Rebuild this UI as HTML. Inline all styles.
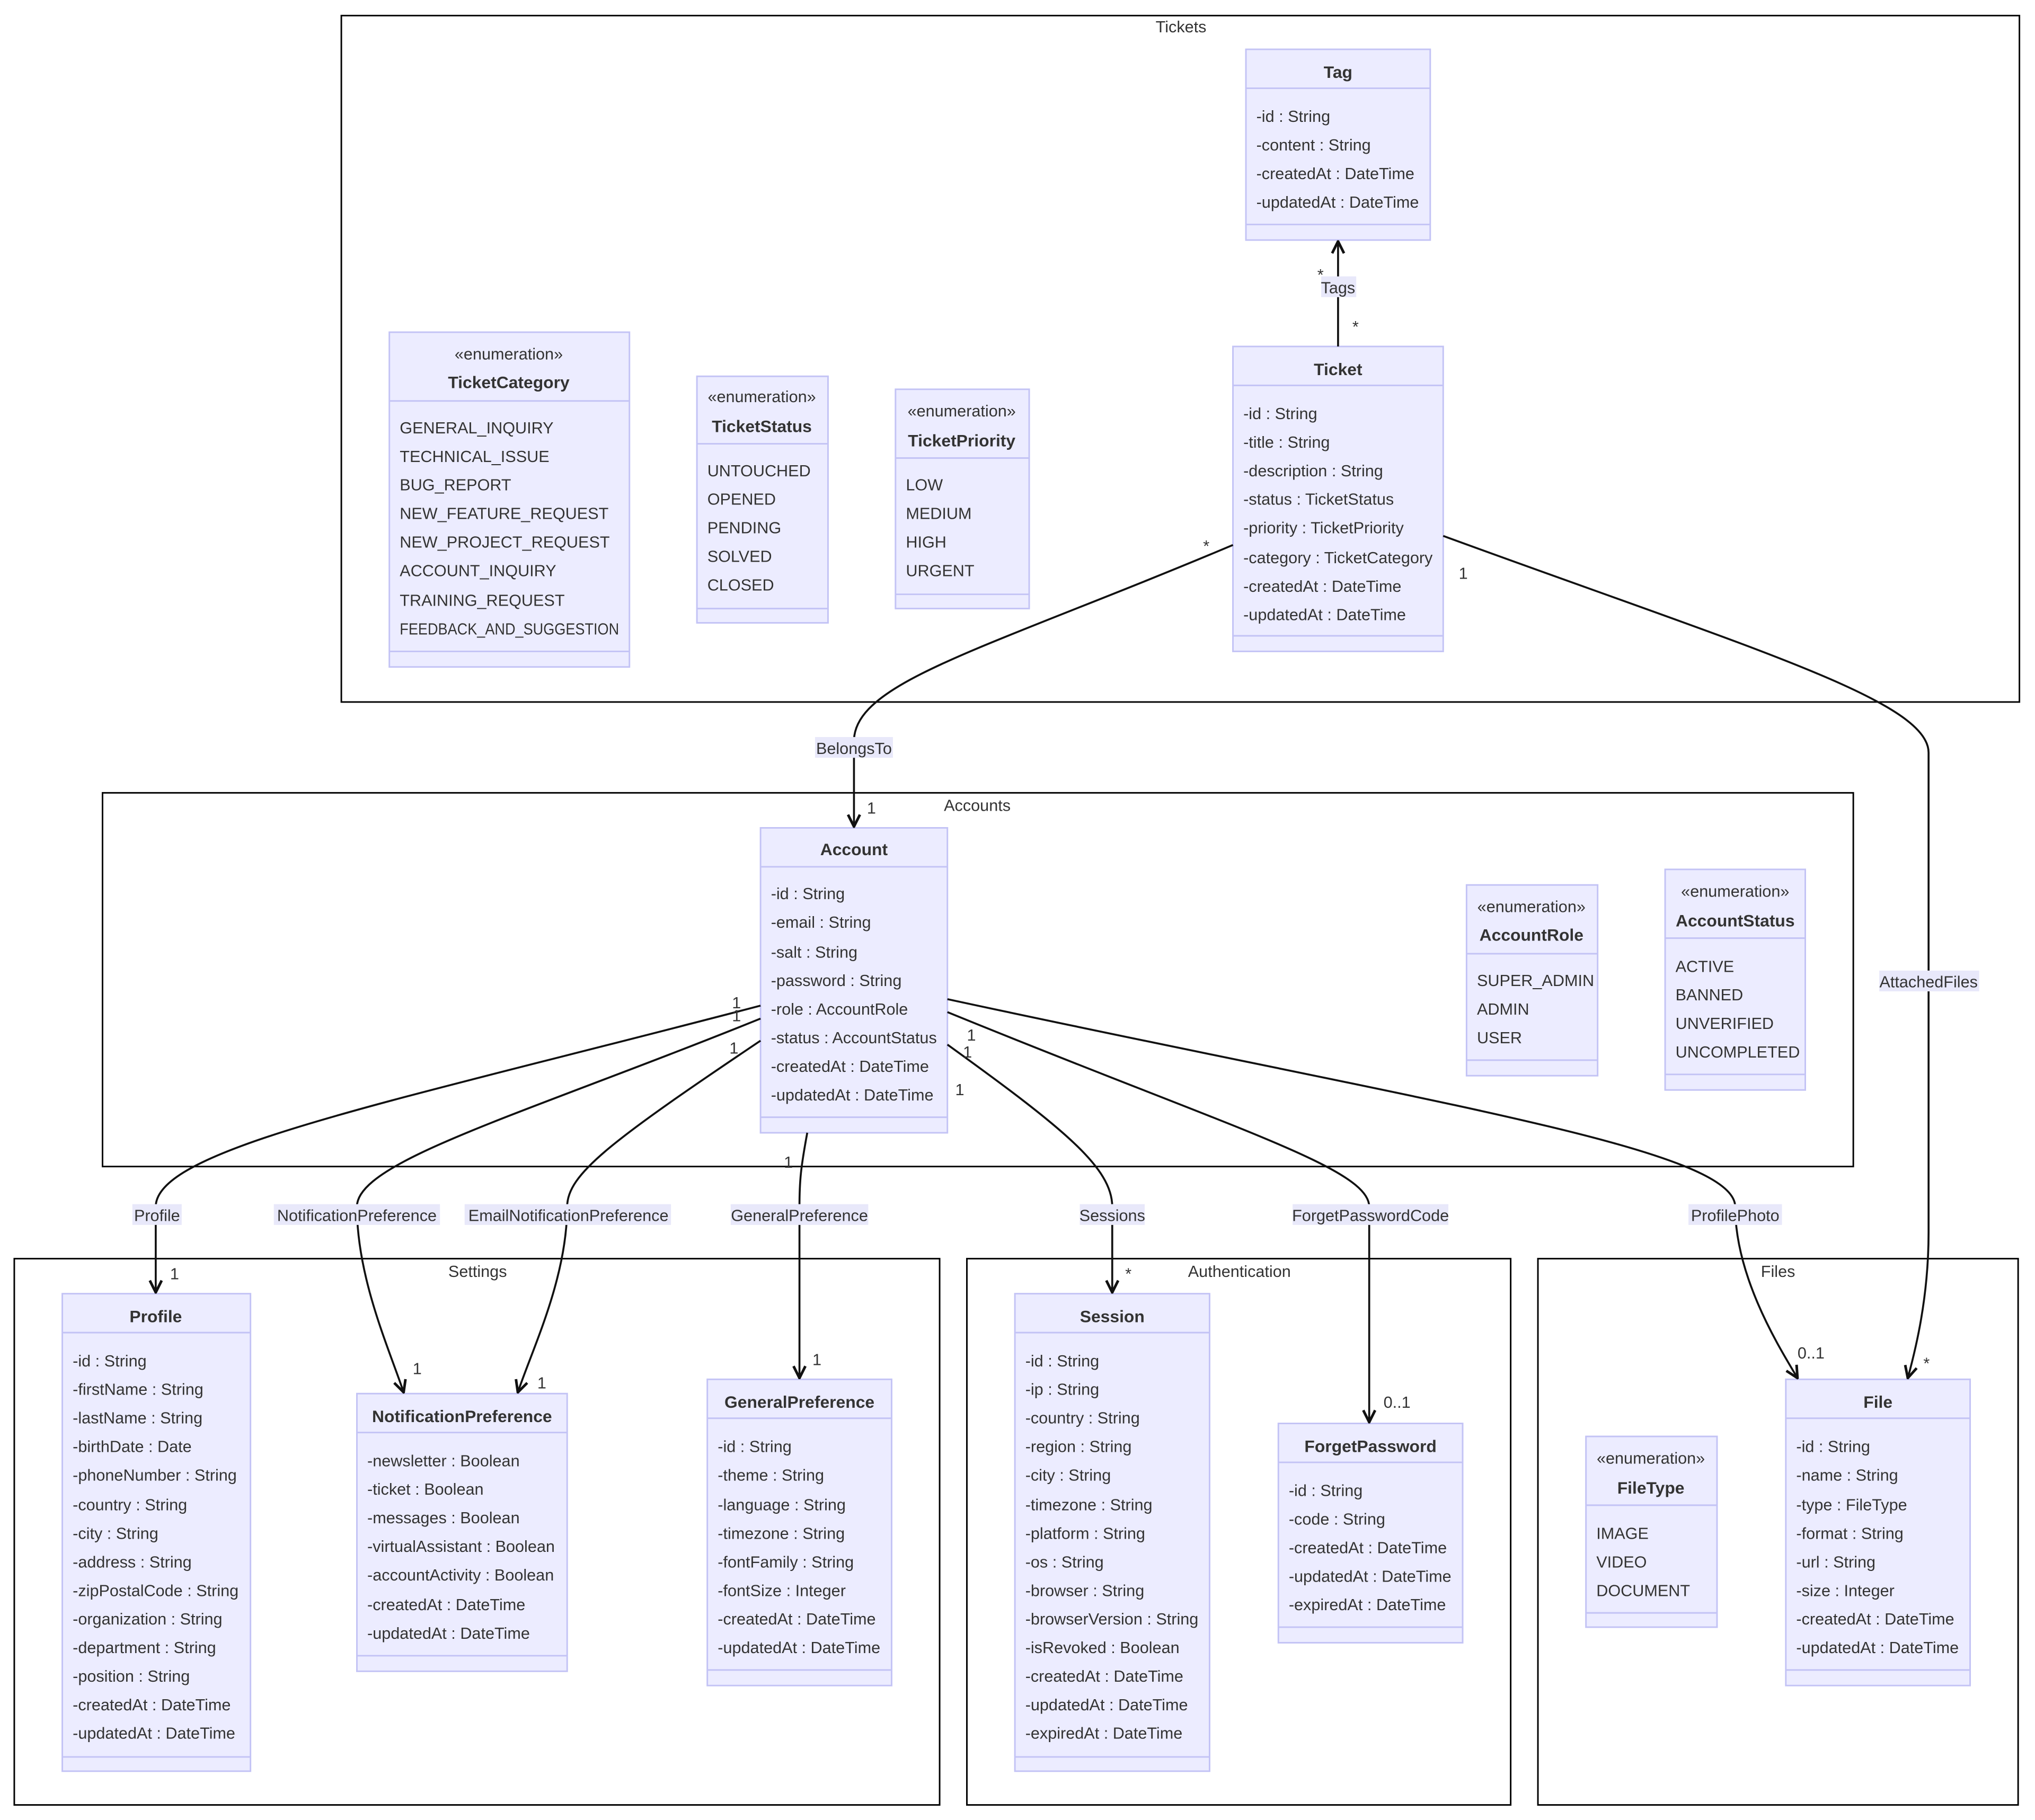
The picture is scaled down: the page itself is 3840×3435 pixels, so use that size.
<!DOCTYPE html>
<html><head><meta charset="utf-8"><style>
html,body{margin:0;padding:0;background:#fff;}
svg{display:block;}
text{font-family:"Liberation Sans","DejaVu Sans",sans-serif;font-size:12.5px;fill:#333;}
.c{text-anchor:middle;}
.b{font-weight:bold;font-size:13px;}
.box{fill:#ECECFF;stroke:#C3C3F5;stroke-width:1.2;}
.dv{stroke:#C3C3F5;stroke-width:1.2;}
.cl{fill:none;stroke:#000;stroke-width:1.2;}
.e{fill:none;stroke:#111;stroke-width:1.5;marker-end:url(#ar);}
.lb{fill:#E8E8FA;}
</style></head><body>
<svg width="3840" height="3435" viewBox="0 0 1568 1402.6" xmlns="http://www.w3.org/2000/svg">
<defs><marker id="ar" viewBox="0 0 12 12" refX="11" refY="6" markerWidth="11" markerHeight="11" orient="auto" markerUnits="userSpaceOnUse"><path d="M1,1 L11,6 L1,11" fill="none" stroke="#111" stroke-width="2.2"/></marker></defs>
<rect width="1568" height="1402.6" fill="#fff"/>

<rect class="cl" x="263" y="12" width="1293" height="529"/><text class="c" x="910" y="25">Tickets</text>
<rect class="cl" x="79" y="611" width="1349" height="288"/><text class="c" x="753" y="625">Accounts</text>
<rect class="cl" x="11" y="970" width="713" height="421"/><text class="c" x="368" y="984">Settings</text>
<rect class="cl" x="745" y="970" width="419" height="421"/><text class="c" x="955" y="984">Authentication</text>
<rect class="cl" x="1185" y="970" width="370" height="421"/><text class="c" x="1370" y="984">Files</text>

<rect class="box" x="960" y="38" width="142" height="147"/>
<line class="dv" x1="960" y1="68" x2="1102" y2="68"/><line class="dv" x1="960" y1="173" x2="1102" y2="173"/>
<text class="c b" x="1031" y="60">Tag</text>
<text x="968" y="94">-id : String</text><text x="968" y="116">-content : String</text><text x="968" y="138">-createdAt : DateTime</text><text x="968" y="160">-updatedAt : DateTime</text>

<rect class="box" x="950" y="267" width="162" height="235"/>
<line class="dv" x1="950" y1="297" x2="1112" y2="297"/><line class="dv" x1="950" y1="490" x2="1112" y2="490"/>
<text class="c b" x="1031" y="289">Ticket</text>
<text x="958" y="323">-id : String</text><text x="958" y="345">-title : String</text><text x="958" y="367">-description : String</text><text x="958" y="389">-status : TicketStatus</text><text x="958" y="411">-priority : TicketPriority</text><text x="958" y="434">-category : TicketCategory</text><text x="958" y="456">-createdAt : DateTime</text><text x="958" y="478">-updatedAt : DateTime</text>

<rect class="box" x="300" y="256" width="185" height="258"/>
<line class="dv" x1="300" y1="309" x2="485" y2="309"/><line class="dv" x1="300" y1="502" x2="485" y2="502"/>
<text class="c" x="392" y="277">«enumeration»</text><text class="c b" x="392" y="299">TicketCategory</text>
<text x="308" y="334">GENERAL_INQUIRY</text><text x="308" y="356">TECHNICAL_ISSUE</text><text x="308" y="378">BUG_REPORT</text><text x="308" y="400">NEW_FEATURE_REQUEST</text><text x="308" y="422">NEW_PROJECT_REQUEST</text><text x="308" y="444">ACCOUNT_INQUIRY</text><text x="308" y="467">TRAINING_REQUEST</text><text x="308" y="489" textLength="169" lengthAdjust="spacingAndGlyphs">FEEDBACK_AND_SUGGESTION</text>

<rect class="box" x="537" y="290" width="101" height="190"/>
<line class="dv" x1="537" y1="342" x2="638" y2="342"/><line class="dv" x1="537" y1="469" x2="638" y2="469"/>
<text class="c" x="587" y="310">«enumeration»</text><text class="c b" x="587" y="333">TicketStatus</text>
<text x="545" y="367">UNTOUCHED</text><text x="545" y="389">OPENED</text><text x="545" y="411">PENDING</text><text x="545" y="433">SOLVED</text><text x="545" y="455">CLOSED</text>

<rect class="box" x="690" y="300" width="103" height="169"/>
<line class="dv" x1="690" y1="353" x2="793" y2="353"/><line class="dv" x1="690" y1="458" x2="793" y2="458"/>
<text class="c" x="741" y="321">«enumeration»</text><text class="c b" x="741" y="344">TicketPriority</text>
<text x="698" y="378">LOW</text><text x="698" y="400">MEDIUM</text><text x="698" y="422">HIGH</text><text x="698" y="444">URGENT</text>

<rect class="box" x="586" y="638" width="144" height="235"/>
<line class="dv" x1="586" y1="668" x2="730" y2="668"/><line class="dv" x1="586" y1="861" x2="730" y2="861"/>
<text class="c b" x="658" y="659">Account</text>
<text x="594" y="693">-id : String</text><text x="594" y="715">-email : String</text><text x="594" y="738">-salt : String</text><text x="594" y="760">-password : String</text><text x="594" y="782">-role : AccountRole</text><text x="594" y="804">-status : AccountStatus</text><text x="594" y="826">-createdAt : DateTime</text><text x="594" y="848">-updatedAt : DateTime</text>

<rect class="box" x="1130" y="682" width="101" height="147"/>
<line class="dv" x1="1130" y1="735" x2="1231" y2="735"/><line class="dv" x1="1130" y1="817" x2="1231" y2="817"/>
<text class="c" x="1180" y="703">«enumeration»</text><text class="c b" x="1180" y="725">AccountRole</text>
<text x="1138" y="760">SUPER_ADMIN</text><text x="1138" y="782">ADMIN</text><text x="1138" y="804">USER</text>

<rect class="box" x="1283" y="670" width="108" height="170"/>
<line class="dv" x1="1283" y1="723" x2="1391" y2="723"/><line class="dv" x1="1283" y1="828" x2="1391" y2="828"/>
<text class="c" x="1337" y="691">«enumeration»</text><text class="c b" x="1337" y="714">AccountStatus</text>
<text x="1291" y="749">ACTIVE</text><text x="1291" y="771">BANNED</text><text x="1291" y="793">UNVERIFIED</text><text x="1291" y="815">UNCOMPLETED</text>

<rect class="box" x="48" y="997" width="145" height="368"/>
<line class="dv" x1="48" y1="1027" x2="193" y2="1027"/><line class="dv" x1="48" y1="1354" x2="193" y2="1354"/>
<text class="c b" x="120" y="1019">Profile</text>
<text x="56" y="1053">-id : String</text><text x="56" y="1075">-firstName : String</text><text x="56" y="1097">-lastName : String</text><text x="56" y="1119">-birthDate : Date</text><text x="56" y="1141">-phoneNumber : String</text><text x="56" y="1164">-country : String</text><text x="56" y="1186">-city : String</text><text x="56" y="1208">-address : String</text><text x="56" y="1230">-zipPostalCode : String</text><text x="56" y="1252">-organization : String</text><text x="56" y="1274">-department : String</text><text x="56" y="1296">-position : String</text><text x="56" y="1318">-createdAt : DateTime</text><text x="56" y="1340">-updatedAt : DateTime</text>

<rect class="box" x="275" y="1074" width="162" height="214"/>
<line class="dv" x1="275" y1="1104" x2="437" y2="1104"/><line class="dv" x1="275" y1="1276" x2="437" y2="1276"/>
<text class="c b" x="356" y="1096">NotificationPreference</text>
<text x="283" y="1130">-newsletter : Boolean</text><text x="283" y="1152">-ticket : Boolean</text><text x="283" y="1174">-messages : Boolean</text><text x="283" y="1196">-virtualAssistant : Boolean</text><text x="283" y="1218">-accountActivity : Boolean</text><text x="283" y="1241">-createdAt : DateTime</text><text x="283" y="1263">-updatedAt : DateTime</text>

<rect class="box" x="545" y="1063" width="142" height="236"/>
<line class="dv" x1="545" y1="1093" x2="687" y2="1093"/><line class="dv" x1="545" y1="1287" x2="687" y2="1287"/>
<text class="c b" x="616" y="1085">GeneralPreference</text>
<text x="553" y="1119">-id : String</text><text x="553" y="1141">-theme : String</text><text x="553" y="1164">-language : String</text><text x="553" y="1186">-timezone : String</text><text x="553" y="1208">-fontFamily : String</text><text x="553" y="1230">-fontSize : Integer</text><text x="553" y="1252">-createdAt : DateTime</text><text x="553" y="1274">-updatedAt : DateTime</text>

<rect class="box" x="782" y="997" width="150" height="368"/>
<line class="dv" x1="782" y1="1027" x2="932" y2="1027"/><line class="dv" x1="782" y1="1354" x2="932" y2="1354"/>
<text class="c b" x="857" y="1019">Session</text>
<text x="790" y="1053">-id : String</text><text x="790" y="1075">-ip : String</text><text x="790" y="1097">-country : String</text><text x="790" y="1119">-region : String</text><text x="790" y="1141">-city : String</text><text x="790" y="1164">-timezone : String</text><text x="790" y="1186">-platform : String</text><text x="790" y="1208">-os : String</text><text x="790" y="1230">-browser : String</text><text x="790" y="1252">-browserVersion : String</text><text x="790" y="1274">-isRevoked : Boolean</text><text x="790" y="1296">-createdAt : DateTime</text><text x="790" y="1318">-updatedAt : DateTime</text><text x="790" y="1340">-expiredAt : DateTime</text>

<rect class="box" x="985" y="1097" width="142" height="169"/>
<line class="dv" x1="985" y1="1127" x2="1127" y2="1127"/><line class="dv" x1="985" y1="1254" x2="1127" y2="1254"/>
<text class="c b" x="1056" y="1119">ForgetPassword</text>
<text x="993" y="1153">-id : String</text><text x="993" y="1175">-code : String</text><text x="993" y="1197">-createdAt : DateTime</text><text x="993" y="1219">-updatedAt : DateTime</text><text x="993" y="1241">-expiredAt : DateTime</text>

<rect class="box" x="1222" y="1107" width="101" height="147"/>
<line class="dv" x1="1222" y1="1160" x2="1323" y2="1160"/><line class="dv" x1="1222" y1="1243" x2="1323" y2="1243"/>
<text class="c" x="1272" y="1128">«enumeration»</text><text class="c b" x="1272" y="1151">FileType</text>
<text x="1230" y="1186">IMAGE</text><text x="1230" y="1208">VIDEO</text><text x="1230" y="1230">DOCUMENT</text>

<rect class="box" x="1376" y="1063" width="142" height="236"/>
<line class="dv" x1="1376" y1="1093" x2="1518" y2="1093"/><line class="dv" x1="1376" y1="1287" x2="1518" y2="1287"/>
<text class="c b" x="1447" y="1085">File</text>
<text x="1384" y="1119">-id : String</text><text x="1384" y="1141">-name : String</text><text x="1384" y="1164">-type : FileType</text><text x="1384" y="1186">-format : String</text><text x="1384" y="1208">-url : String</text><text x="1384" y="1230">-size : Integer</text><text x="1384" y="1252">-createdAt : DateTime</text><text x="1384" y="1274">-updatedAt : DateTime</text>

<path class="e" d="M1031,267 L1031,186"/>
<path class="e" d="M950,420 C760,500 660,525 658,570 L658,637"/>
<path class="e" d="M1112,413 C1350,500 1486,540 1486,580 L1486,950 C1486,1000 1476,1040 1470,1062"/>
<path class="e" d="M586,775 C300,850 120,885 120,930 L120,996"/>
<path class="e" d="M586,785 C400,860 275,895 275,930 C275,985 300,1040 311,1073"/>
<path class="e" d="M586,802 C470,880 437,905 437,930 C437,985 410,1040 399,1073"/>
<path class="e" d="M622,873 C617,900 616,910 616,930 L616,1062"/>
<path class="e" d="M730,805 C820,870 857,900 857,930 L857,996"/>
<path class="e" d="M730,780 C950,870 1055,900 1055,930 L1055,1096"/>
<path class="e" d="M730,770 C1100,850 1337,885 1337,930 C1337,985 1372,1040 1385,1062"/>

<rect class="lb" x="1018" y="213" width="27" height="16"/><text class="c" x="1031" y="226">Tags</text>
<rect class="lb" x="628" y="568" width="60" height="16"/><text class="c" x="658" y="581">BelongsTo</text>
<rect class="lb" x="1448" y="748" width="77" height="16"/><text class="c" x="1486" y="761">AttachedFiles</text>
<rect class="lb" x="102" y="928" width="38" height="16"/><text class="c" x="121" y="941">Profile</text>
<rect class="lb" x="211" y="928" width="128" height="16"/><text class="c" x="275" y="941">NotificationPreference</text>
<rect class="lb" x="358" y="928" width="159" height="16"/><text class="c" x="438" y="941">EmailNotificationPreference</text>
<rect class="lb" x="563" y="928" width="106" height="16"/><text class="c" x="616" y="941">GeneralPreference</text>
<rect class="lb" x="832" y="928" width="50" height="16"/><text class="c" x="857" y="941">Sessions</text>
<rect class="lb" x="996" y="928" width="120" height="16"/><text class="c" x="1056" y="941">ForgetPasswordCode</text>
<rect class="lb" x="1301" y="928" width="72" height="16"/><text class="c" x="1337" y="941">ProfilePhoto</text>

<text x="1015" y="216">*</text><text x="1042" y="256">*</text>
<text x="927" y="425">*</text><text x="668" y="627">1</text>
<text x="1124" y="446">1</text><text x="1482" y="1055">*</text>
<text x="564" y="777">1</text><text x="131" y="986">1</text>
<text x="564" y="787">1</text><text x="318" y="1059">1</text>
<text x="562" y="812">1</text><text x="414" y="1070">1</text>
<text x="604" y="900">1</text><text x="626" y="1052">1</text>
<text x="742" y="815">1</text><text x="867" y="986">*</text>
<text x="745" y="802">1</text><text x="1066" y="1085">0..1</text>
<text x="736" y="844">1</text><text x="1385" y="1047">0..1</text>
</svg>
</body></html>
